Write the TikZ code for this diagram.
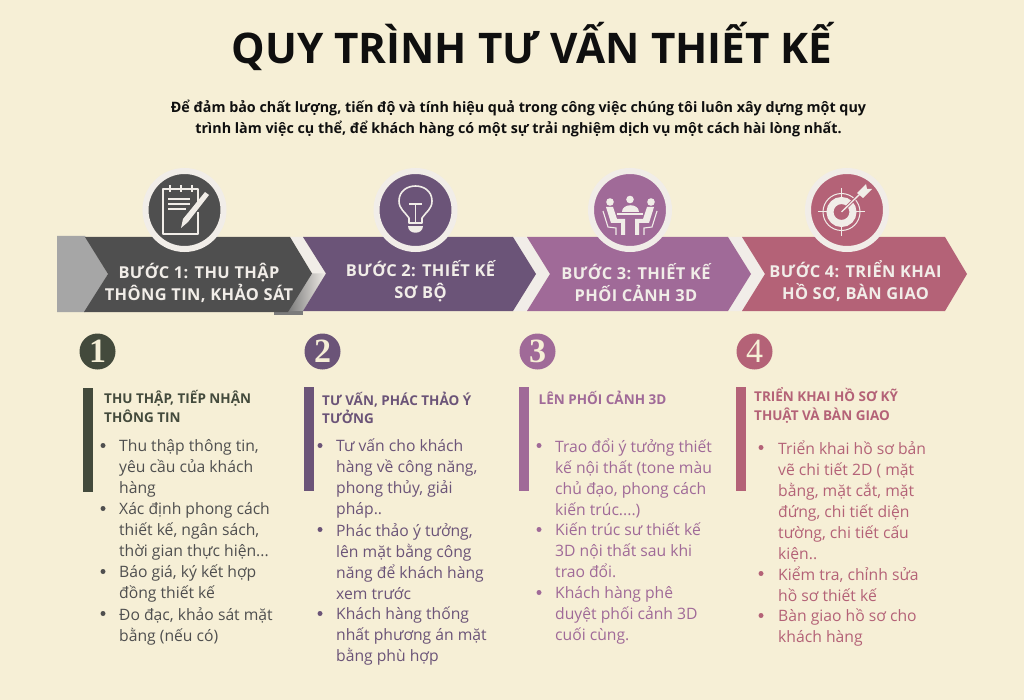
\documentclass[tikz,border=0pt]{standalone}
\usepackage{fontspec}
\setmainfont{Open Sans}
\newfontfamily\titlefont{Open Sans}
\newfontfamily\numfont{Liberation Serif}
\newfontfamily\labelfont[LetterSpace=2.5]{Open Sans}
\usetikzlibrary{positioning}
\definecolor{paper}{HTML}{F6EFD6}
\definecolor{halo}{HTML}{F1EDE8}
\definecolor{inkdark}{HTML}{0F0F0F}
\definecolor{slategray}{HTML}{4F4F4F}
\definecolor{olivedark}{HTML}{434A3C}
\definecolor{plum}{HTML}{6B5478}
\definecolor{mauve}{HTML}{A06A98}
\definecolor{rose}{HTML}{B46277}
\tikzset{
  ring/.style={circle, draw=halo, line width=6pt, fill=#1, minimum size=78pt, inner sep=0pt},
  numdisc/.style={circle, fill=#1, minimum size=36pt, inner sep=0pt, text=paper, font=\numfont\bfseries\fontsize{34}{34}\selectfont},
  steplabel/.style={align=center, text=halo, inner sep=0pt, font=\labelfont\bfseries\fontsize{16.4}{22}\selectfont},
  headtext/.style={anchor=north west, align=left, inner sep=0pt, text=#1, font=\bfseries\fontsize{13.5}{18.5}\selectfont},
  bodytext/.style={anchor=north west, align=left, inner sep=0pt, text=#1, font=\fontsize{15.7}{21}\selectfont},
  dotmark/.style={circle, fill=#1, minimum size=5pt, inner sep=0pt},
  barmark/.style={fill=#1, minimum width=10pt, minimum height=104pt, inner sep=0pt, anchor=north west},
  iconline/.style={draw=halo, line width=1.6pt, line join=round},
}
\begin{document}
\begin{tikzpicture}[x=1pt,y=-1pt]
  \useasboundingbox (0,0) rectangle (1024,700);
  \fill[paper] (0,0) rectangle (1024,700);

  \node[inner sep=0pt, text=inkdark, font=\titlefont\bfseries\fontsize{42.2}{44}\selectfont] (title) at (532,46) {QUY TRÌNH TƯ VẤN THIẾT KẾ};
  \node[align=center, inner sep=0pt, text=inkdark, font=\bfseries\fontsize{14.3}{21}\selectfont] (intro) at (518.5,118.5) {Để đảm bảo chất lượng, tiến độ và tính hiệu quả trong công việc chúng tôi luôn xây dựng một quy\\trình làm việc cụ thể, để khách hàng có một sự trải nghiệm dịch vụ một cách hài lòng nhất.};

  % chevrons
  \fill[halo] (290,237) -- (303,237) -- (326,273.5) -- (303,311) -- (288,311) -- (312,273.5) -- cycle;
  \shade[left color=slategray!75, right color=halo] (288,311) -- (300,290) -- (312,273.5) -- (326,273.5) -- (303,311) -- cycle;
  \fill[slategray!75] (274,311) rectangle (303,315);
  \fill[halo] (513,237) -- (527,237) -- (550,274) -- (527,311) -- (513,311) -- (536,274) -- cycle;
  \fill[halo] (728,237) -- (742,237) -- (765,274) -- (742,311) -- (728,311) -- (751,274) -- cycle;
  \fill[black!35] (57,236) -- (85,236) -- (108,274) -- (85,312) -- (57,312) -- cycle;
  \fill[slategray] (85,237) -- (290,237) -- (312,273.5) -- (288,312) -- (84,312) -- (108,274) -- cycle;
  \fill[plum] (303,237) -- (513,237) -- (536,274) -- (513,311) -- (303,311) -- (326,273.5) -- cycle;
  \fill[mauve] (527,237) -- (728,237) -- (751,274) -- (728,311) -- (527,311) -- (550,274) -- cycle;
  \fill[rose] (742,237) -- (945,237) -- (967,274) -- (945,311) -- (742,311) -- (765,274) -- cycle;

  \node[ring=slategray] (iconA) at (184.5,210) {};
  \node[ring=plum] (iconB) at (415.5,210) {};
  \node[ring=mauve] (iconC) at (630,210) {};
  \node[ring=rose] (iconD) at (847,210) {};

  % notepad
  \draw[iconline] (184,234) -- (163,234) -- (163,189) -- (198,189) -- (198,203);
  \draw[iconline] (198,212) -- (198,234) -- (184,234);
  \draw[iconline] (170,185) -- (170,192) (181,185) -- (181,192) (192,185) -- (192,192);
  \draw[draw=halo, line width=1.2pt] (168,199) -- (190,199) (168,204) -- (190,204) (168,209) -- (186,209);
  \fill[halo] (205,192) -- (209,195) -- (188,222) -- (181,228) -- (183,219) -- cycle;
  % bulb
  \draw[iconline] (409,223) -- (409,218) .. controls (405,212) and (399,209) .. (399,201) .. controls (399,181) and (432,181) .. (432,201) .. controls (432,209) and (426,212) .. (422,218) -- (422,223) -- cycle;
  \draw[iconline] (409,204) -- (422,204) (415.5,204) -- (415.5,222);
  \fill[halo] (408,226) -- (423,226) .. controls (423,235) and (408,235) .. (408,226) -- cycle;
  % meeting
  \fill[halo] (630,199.5) circle (3.8) (610,202) circle (3.8) (651,202) circle (3.8);
  \fill[halo] (622,212) .. controls (622,203) and (639,203) .. (639,212) -- cycle;
  \fill[halo] (617,213) rectangle (643,215.5);
  \fill[halo] (606,207) -- (613,207) -- (617,219) -- (625,219) -- (625,235) -- (621,235) -- (621,223) -- (611,223) -- cycle;
  \fill[halo] (654,207) -- (647,207) -- (643,219) -- (635,219) -- (635,235) -- (639,235) -- (639,223) -- (649,223) -- cycle;
  \draw[draw=halo, line width=1.1pt] (603,211) -- (608,227) -- (616,228) -- (616,235);
  \draw[draw=halo, line width=1.1pt] (657,211) -- (652,227) -- (644,228) -- (644,235);
  % target
  \draw[draw=halo, line width=7pt] (841.5,212) circle (11.5);
  \draw[draw=halo, line width=1pt] (841.5,212) circle (18.5);
  \draw[draw=halo, line width=1pt] (841.5,188) -- (841.5,197) (841.5,227) -- (841.5,236) (818,212) -- (827,212) (856,212) -- (865,212);
  \fill[rose] (841.5,212) circle (5.5);
  \draw[draw=rose, line width=3pt] (841.5,212) -- (862,192);
  \draw[draw=halo, line width=1.3pt] (841.5,212) -- (862,192);
  \fill[halo] (857,193) -- (866,184) -- (867,189) -- (872,189) -- (863,198) -- cycle;

  \node[steplabel] (stepA) at (199,283) {BƯỚC 1: THU THẬP\\THÔNG TIN, KHẢO SÁT};
  \node[steplabel] (stepB) at (420.5,281) {BƯỚC 2: THIẾT KẾ\\SƠ BỘ};
  \node[steplabel] (stepC) at (636,283) {BƯỚC 3: THIẾT KẾ\\PHỐI CẢNH 3D};
  \node[steplabel] (stepD) at (855.5,281.5) {BƯỚC 4: TRIỂN KHAI\\HỒ SƠ, BÀN GIAO};

  \node[numdisc=olivedark] (numA) at (97.5,351.5) {1};
  \node[numdisc=plum] (numB) at (322.5,351.5) {2};
  \node[numdisc=mauve] (numC) at (537.5,351.5) {3};
  \node[numdisc=rose, font=\numfont\fontsize{34}{34}\selectfont] (numD) at (754.5,351.5) {4};

  \node[barmark=olivedark] (barA) at (82.5,388) {};
  \node[barmark=plum] (barB) at (304,387) {};
  \node[barmark=mauve] (barC) at (519,387) {};
  \node[barmark=rose] (barD) at (736,387) {};

  \node[headtext=olivedark] (headA) at (104,390.5) {THU THẬP, TIẾP NHẬN\\THÔNG TIN};
  \node[headtext=plum] (headB) at (322,391.5) {TƯ VẤN, PHÁC THẢO Ý\\TƯỞNG};
  \node[headtext=mauve] (headC) at (538.5,390.5) {LÊN PHỐI CẢNH 3D};
  \node[headtext=rose] (headD) at (754,387.5) {TRIỂN KHAI HỒ SƠ KỸ\\THUẬT VÀ BÀN GIAO};

  \node[dotmark=slategray] (dotA) at (103,445.5) {};
  \node[dotmark=slategray] (dotB) at (103,508.5) {};
  \node[dotmark=slategray] (dotC) at (103,571.5) {};
  \node[dotmark=slategray] (dotD) at (103,613.5) {};
  \node[bodytext=slategray] (textA) at (119,439) {Thu thập thông tin,\\yêu cầu của khách\\hàng};
  \node[bodytext=slategray] (textB) at (119,502) {Xác định phong cách\\thiết kế, ngân sách,\\thời gian thực hiện...};
  \node[bodytext=slategray] (textC) at (119,565) {Báo giá, ký kết hợp\\đồng thiết kế};
  \node[bodytext=slategray] (textD) at (119,607) {Đo đạc, khảo sát mặt\\bằng (nếu có)};

  \node[dotmark=plum] (dotE) at (320,445.5) {};
  \node[dotmark=plum] (dotF) at (320,529.5) {};
  \node[dotmark=plum] (dotG) at (320,613.5) {};
  \node[bodytext=plum] (textE) at (336,439) {Tư vấn cho khách\\hàng về công năng,\\phong thủy, giải\\pháp..};
  \node[bodytext=plum] (textF) at (336,523) {Phác thảo ý tưởng,\\lên mặt bằng công\\năng để khách hàng\\xem trước};
  \node[bodytext=plum] (textG) at (336,607) {Khách hàng thống\\nhất phương án mặt\\bằng phù hợp};

  \node[dotmark=mauve] (dotH) at (539,445.5) {};
  \node[dotmark=mauve] (dotI) at (539,529.5) {};
  \node[dotmark=mauve] (dotJ) at (539,592.5) {};
  \node[bodytext=mauve] (textH) at (555,439) {Trao đổi ý tưởng thiết\\kế nội thất (tone màu\\chủ đạo, phong cách\\kiến trúc....)};
  \node[bodytext=mauve] (textI) at (555,523) {Kiến trúc sư thiết kế\\3D nội thất sau khi\\trao đổi.};
  \node[bodytext=mauve] (textJ) at (555,586) {Khách hàng phê\\duyệt phối cảnh 3D\\cuối cùng.};

  \node[dotmark=rose] (dotK) at (761,447.5) {};
  \node[dotmark=rose] (dotL) at (761,573.5) {};
  \node[dotmark=rose] (dotM) at (761,615.5) {};
  \node[bodytext=rose] (textK) at (778,441) {Triển khai hồ sơ bản\\vẽ chi tiết 2D ( mặt\\bằng, mặt cắt, mặt\\đứng, chi tiết diện\\tường, chi tiết cấu\\kiện..};
  \node[bodytext=rose] (textL) at (778,567) {Kiểm tra, chỉnh sửa\\hồ sơ thiết kế};
  \node[bodytext=rose] (textM) at (778,609) {Bàn giao hồ sơ cho\\khách hàng};
\end{tikzpicture}
\end{document}
